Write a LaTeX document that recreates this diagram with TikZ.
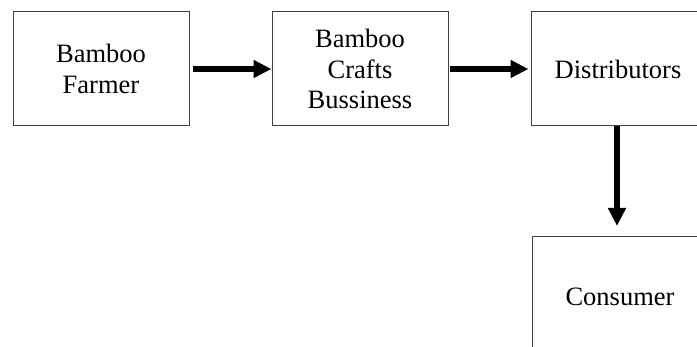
\documentclass[tikz,border=0pt]{standalone}
\usepackage{fontspec}
\setmainfont{Liberation Serif}
\usetikzlibrary{arrows.meta}
\tikzset{
  box/.style={draw=black!75, line width=1pt, minimum width=176pt, minimum height=114pt,
    inner sep=0pt, align=center, font=\fontsize{26.5}{30.7}\selectfont},
  arr/.style={line width=6.5pt, -{Triangle[length=18pt,width=17pt]}}
}
\begin{document}
\begin{tikzpicture}[x=1pt,y=-1pt]
\useasboundingbox (0,0) rectangle (697,347);
\clip (0,0) rectangle (697,347);
\node[box] (farmer) at (101,69) {Bamboo\\Farmer};
\node[box] (crafts) at (360,69) {Bamboo\\Crafts\\Bussiness};
\node[box, minimum width=174pt] (dist) at (618,69) {Distributors};
\node[box, minimum height=120pt] (cons) at (620,297) {Consumer};
\draw[arr, shorten <=3pt] (farmer.east) -- (crafts.west);
\draw[arr, shorten <=1pt, shorten >=2pt] (crafts.east) -- (dist.west);
\draw[arr, shorten >=11pt] (dist.south -| 617,0) -- (617,237);
\end{tikzpicture}
\end{document}
